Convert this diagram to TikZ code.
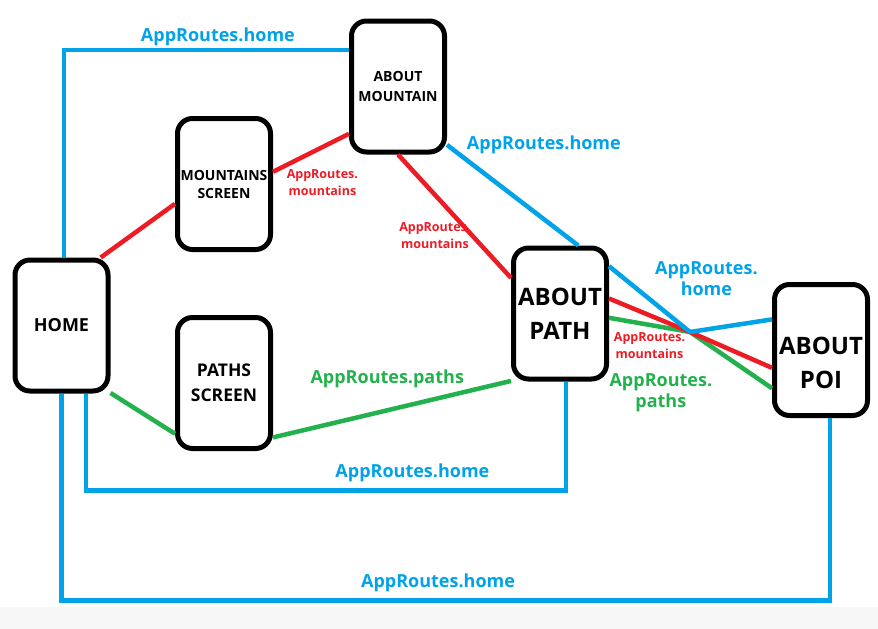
\documentclass[tikz,border=0pt]{standalone}
\usepackage{fontspec}
\setmainfont{Open Sans}
\usetikzlibrary{positioning}
\definecolor{homeblue}{HTML}{00A2E8}
\definecolor{mountred}{HTML}{ED1C24}
\definecolor{pathgreen}{HTML}{22B14C}
\definecolor{stripgray}{HTML}{F7F7F7}
\newcommand{\sizept}[2]{\fontsize{#1}{#2}\selectfont}
\begin{document}
\begin{tikzpicture}[x=1pt, y=-1pt,
        screen/.style={draw, line width=5pt, rounded corners=15pt, align=center, minimum width=93pt, minimum height=131pt, inner sep=0pt},
        route/.style={line width=4.5pt},
        homeroute/.style={route, homeblue},
        mountroute/.style={route, mountred},
        pathroute/.style={route, pathgreen},
        homelabel/.style={text=homeblue, font=\bfseries\sizept{18}{21}, align=center, inner sep=2pt},
        mountlabel/.style={text=mountred, font=\bfseries\sizept{12.5}{17}, align=center, inner sep=2pt},
        pathlabel/.style={text=pathgreen, font=\bfseries\sizept{18}{21}, align=center, inner sep=2pt}]
    \useasboundingbox (0,0) rectangle (878,629);
    \fill[stripgray] (0,607) rectangle (878,629);
    % screens
    \node[screen, font=\bfseries\sizept{18}{22}] (home) at (61.5,325.5) {HOME};
    \node[screen, font=\bfseries\sizept{14}{18}] (mountains) at (224,184) {MOUNTAINS\\SCREEN};
    \node[screen, font=\bfseries\sizept{17.5}{25}] (paths) at (224,383) {PATHS\\SCREEN};
    \node[screen, font=\bfseries\sizept{14}{20}] (aboutmountain) at (398,86.5) {ABOUT\\MOUNTAIN};
    \node[screen, font=\bfseries\sizept{24}{34}] (aboutpath) at (560,313.5) {ABOUT\\PATH};
    \node[screen, font=\bfseries\sizept{24}{34}] (aboutpoi) at (821,350) {\raisebox{-15pt}[\height][\depth]{\begin{tabular}{@{}c@{}}ABOUT\\POI\end{tabular}}};
    \coordinate (hub) at (690,332);
    % routes
    \draw[homeroute] ([xshift=2.5pt]home.north) |- ([yshift=36.5pt]aboutmountain.west) node[homelabel, pos=0.77, above]{AppRoutes.home};
    \draw[mountroute] (home.60) -- (mountains.202);
    \draw[mountroute] (mountains.14) -- (aboutmountain.224) node[mountlabel, pos=0.65, below=18pt]{AppRoutes.\\mountains};
    \draw[mountroute] (aboutmountain.south) -- (aboutpath.144) node[mountlabel, pos=0.52, below left, xshift=18pt]{AppRoutes.\\mountains};
    \draw[homeroute] (aboutmountain.310) -- (aboutpath.75) node[homelabel, pos=0.15, above right=2pt and -4pt]{AppRoutes.home};
    \draw[pathroute] (home.-54) -- (paths.226);
    \draw[pathroute] (paths.-48) -- (aboutpath.234) node[pathlabel, pos=0.48, above=18pt]{AppRoutes.paths};
    \draw[homeroute] ([xshift=24.5pt]home.south) -- ++(0,97) -| ([xshift=6pt]aboutpath.south) node[homelabel, pos=0.34, above=4pt]{AppRoutes.home};
    \draw[homeroute] (home.south) -- ++(0,207) -| ([xshift=9pt]aboutpoi.south) node[homelabel, pos=0.245, above=4pt]{AppRoutes.home};
    % routes through the crossing
    \draw[pathroute] (aboutpath.-5) -- node[pathlabel, pos=0.64, below=42pt]{AppRoutes.\\paths} (hub) -- (aboutpoi.218);
    \draw[mountroute] (aboutpath.17) -- node[mountlabel, below=13pt]{AppRoutes.\\mountains} (hub) -- (aboutpoi.200);
    \draw[homeroute] (aboutpath.44) -- (hub) -- (aboutpoi.148) node[homelabel, pos=0.2, above=30pt]{AppRoutes.\\home};
\end{tikzpicture}
\end{document}
